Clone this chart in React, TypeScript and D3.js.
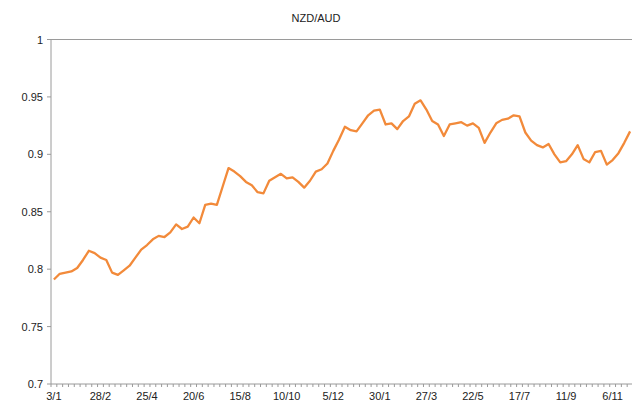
import React from "react";
import * as d3 from "d3";

const title = "NZD/AUD";
const values: number[] = [
  0.791, 0.796, 0.797, 0.798, 0.801, 0.808, 0.816, 0.814, 0.81, 0.808,
  0.797, 0.795, 0.799, 0.803, 0.81, 0.817, 0.821, 0.826, 0.829, 0.828,
  0.832, 0.839, 0.835, 0.837, 0.845, 0.84, 0.856, 0.857, 0.856, 0.872,
  0.888, 0.885, 0.881, 0.876, 0.873, 0.867, 0.866, 0.877, 0.88, 0.883,
  0.879, 0.88, 0.876, 0.871, 0.877, 0.885, 0.887, 0.892, 0.903, 0.913,
  0.924, 0.921, 0.92, 0.927, 0.934, 0.938, 0.939, 0.926, 0.927, 0.922,
  0.929, 0.933, 0.944, 0.947, 0.939, 0.929, 0.926, 0.916, 0.926, 0.927,
  0.928, 0.925, 0.927, 0.923, 0.91, 0.919, 0.927, 0.93, 0.931, 0.934,
  0.933, 0.919, 0.912, 0.908, 0.906, 0.909, 0.9, 0.893, 0.894, 0.9,
  0.908, 0.896, 0.893, 0.902, 0.903, 0.891, 0.895, 0.901, 0.91, 0.92,
];
const tickLabels = [
  "3/1", "28/2", "25/4", "20/6", "15/8", "10/10", "5/12",
  "30/1", "27/3", "22/5", "17/7", "11/9", "6/11",
];
const labelEvery = 8;
const yTicks = [0.7, 0.75, 0.8, 0.85, 0.9, 0.95, 1];

export default function App() {
  const W = 632, H = 403;
  const left = 51, right = 633, top = 39.5, bottom = 384;
  const idx = values.map((_, i) => i);
  const x = d3.scalePoint<number>().domain(idx).range([left, right]).padding(0.5);
  const y = d3.scaleLinear().domain([0.7, 1]).range([bottom, top]);
  const step = x.step();
  const line = d3.line<number>().x((_, i) => x(i)!).y((d) => y(d));
  const font = "'Liberation Sans', Arial, sans-serif";
  const axisColor = "#9a9a9a";
  return (
    <svg width={W} height={H} style={{ position: "absolute", left: 0, top: 0 }}>
      <rect width={W} height={H} fill="#fff" />
      <text x={316} y={22} textAnchor="middle" fontFamily={font} fontSize={11} fill="#222">
        {title}
      </text>
      <line x1={left} x2={W} y1={y(1)} y2={y(1)} stroke={axisColor} strokeWidth={1} />
      <line x1={left} x2={left} y1={top} y2={bottom} stroke={axisColor} strokeWidth={1} />
      <line x1={left} x2={W} y1={bottom} y2={bottom} stroke={axisColor} strokeWidth={1} />
      {yTicks.map((t) => (
        <g key={t}>
          <line x1={left - 4} x2={left} y1={y(t)} y2={y(t)} stroke={axisColor} />
          <text x={left - 8} y={y(t) + 4} textAnchor="end" fontFamily={font} fontSize={11} fill="#222">
            {String(t)}
          </text>
        </g>
      ))}
      {d3.range(values.length + 1).map((k) => (
        <line key={k} x1={left + k * step} x2={left + k * step} y1={bottom} y2={bottom + 3} stroke={axisColor} />
      ))}
      {tickLabels.map((lab, k) => (
        <text key={lab} x={x(k * labelEvery)!} y={bottom + 16} textAnchor="middle" fontFamily={font} fontSize={11} fill="#222">
          {lab}
        </text>
      ))}
      <path d={line(values)!} fill="none" stroke="#F28A3A" strokeWidth={2.3} strokeLinejoin="round" />
    </svg>
  );
}
